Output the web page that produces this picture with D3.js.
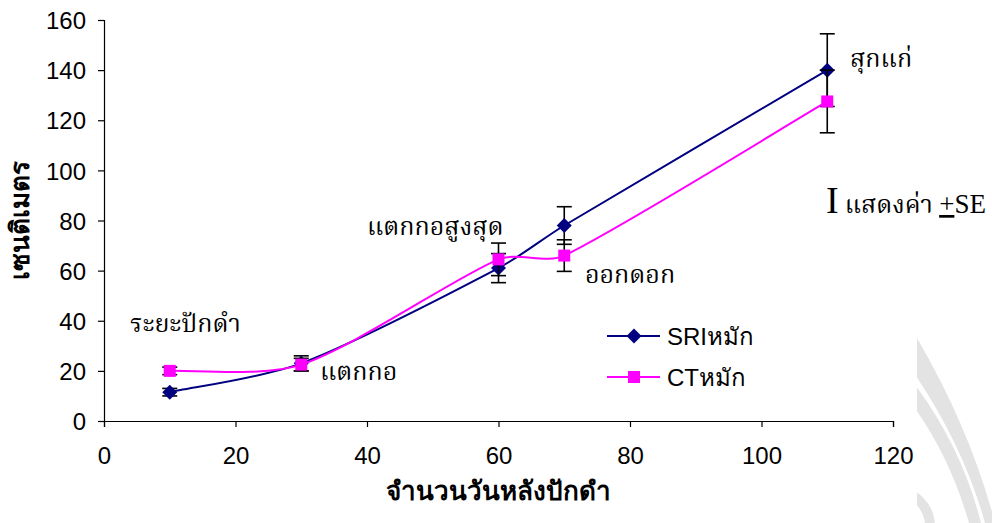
<!DOCTYPE html>
<html><head><meta charset="utf-8">
<script src="https://cdn.jsdelivr.net/npm/d3@7/dist/d3.min.js"></script>
<style>
body{margin:0;background:#fff;}
svg{display:block;}
.tick text{font-family:"Liberation Sans",Arial,sans-serif;font-size:24px;fill:#000;}
.ann{font-family:"Liberation Serif","Noto Serif Thai","Noto Sans Thai",serif;font-size:25px;fill:#000;}
</style></head>
<body>
<svg id="chart" width="992" height="523"></svg>
<script>
const days = [10, 30, 60, 70, 110];
const sriValues = [11.5, 23, 61, 78, 140];
const sriSE = [1.5, 3, 5.8, 7.5, 14.5];
const ctValues = [20, 22.5, 64.5, 66, 127.5];
const ctSE = [1.5, 2.5, 6.5, 6.3, 12.5];
const xTicks = [0, 20, 40, 60, 80, 100, 120];
const yTicks = [0, 20, 40, 60, 80, 100, 120, 140, 160];
const seriesNames = ["SRIหมัก", "CTหมัก"];
const stageLabels = ["ระยะปักดำ", "แตกกอ", "แตกกอสูงสุด", "ออกดอก", "สุกแก่"];
const xTitle = "จำนวนวันหลังปักดำ";
const yTitle = "เซนติเมตร";

const svg = d3.select("#chart");
const L = 104, R = 893, T = 20, B = 421;
const x = d3.scaleLinear().domain([0, 120]).range([L, R]);
const y = d3.scaleLinear().domain([0, 160]).range([B, T]);

// watermark (decorative, clipped at x >= 917)
svg.append("clipPath").attr("id", "wmclip").append("rect")
  .attr("x", 917).attr("y", 0).attr("width", 80).attr("height", 523);
const wm = svg.append("g").attr("fill", "#e3e3e3").attr("clip-path", "url(#wmclip)");
wm.append("path").attr("d", "M905,318 Q968,420 995,523 L985,523 Q962,440 905,360 Z");
wm.append("path").attr("d", "M905,372 Q960,440 981,523 L969,523 Q948,450 905,395 Z");
wm.append("path").attr("d", d3.arc().innerRadius(30).outerRadius(40).startAngle(0).endAngle(Math.PI)())
  .attr("transform", "translate(895,526)");

// axes
const yAxis = d3.axisLeft(y).tickValues(yTicks).tickSize(6).tickPadding(12);
const xAxis = d3.axisBottom(x).tickValues(xTicks).tickSize(6).tickPadding(20);
const gy = svg.append("g").attr("transform", `translate(${L},0)`).call(yAxis);
const gx = svg.append("g").attr("transform", `translate(0,${B})`).call(xAxis);
[gx, gy].forEach(g => { g.selectAll("path,line").attr("stroke", "#000").attr("stroke-width", 1.2); });
gy.selectAll(".tick text").attr("dy", "0.36em");

// Excel-like smoothed line: Bezier with (P[i+1]-P[i-1])/6 tangents, clamped to segment length
function smoothPath(pts) {
  const p = pts.map(d => [x(d[0]), y(d[1])]);
  const n = p.length, k = 0.3;
  const dist = (a, b) => Math.hypot(b[0] - a[0], b[1] - a[1]);
  const tan = i => {
    const a = p[Math.max(0, i - 1)], b = p[Math.min(n - 1, i + 1)];
    return [(b[0] - a[0]) / 6, (b[1] - a[1]) / 6];
  };
  const clamp = (t, maxLen) => {
    const len = Math.hypot(t[0], t[1]);
    return len > maxLen ? [t[0] * maxLen / len, t[1] * maxLen / len] : t;
  };
  const path = d3.path();
  path.moveTo(p[0][0], p[0][1]);
  for (let i = 0; i < n - 1; i++) {
    const d = dist(p[i], p[i + 1]);
    const t0 = clamp(tan(i), k * d), t1 = clamp(tan(i + 1), k * d);
    path.bezierCurveTo(p[i][0] + t0[0], p[i][1] + t0[1],
      p[i + 1][0] - t1[0], p[i + 1][1] - t1[1],
      p[i + 1][0], p[i + 1][1]);
  }
  return path.toString();
}
const diamond = "M0,-7.5L7.5,0L0,7.5L-7.5,0Z";
const square = "M-6,-6H6V6H-6Z";

function drawSeries(vals, se, color, shape) {
  const pts = days.map((d, i) => [d, vals[i]]);
  svg.append("path").attr("d", smoothPath(pts)).attr("fill", "none")
    .attr("stroke", color).attr("stroke-width", 2);
  const eb = svg.append("g").attr("stroke", "#000").attr("stroke-width", 1.6);
  days.forEach((d, i) => {
    const cx = x(d), y1 = y(vals[i] + se[i]), y2 = y(vals[i] - se[i]);
    eb.append("line").attr("x1", cx).attr("x2", cx).attr("y1", y1).attr("y2", y2);
    eb.append("line").attr("x1", cx - 7.5).attr("x2", cx + 7.5).attr("y1", y1).attr("y2", y1);
    eb.append("line").attr("x1", cx - 7.5).attr("x2", cx + 7.5).attr("y1", y2).attr("y2", y2);
  });
  svg.append("g").selectAll("path").data(pts).join("path")
    .attr("d", shape).attr("fill", color)
    .attr("transform", d => `translate(${x(d[0])},${y(d[1])})`);
}
drawSeries(sriValues, sriSE, "#000080", diamond);
drawSeries(ctValues, ctSE, "#ff00ff", square);

// legend
const leg = [{c: "#000080", s: diamond, yy: 336}, {c: "#ff00ff", s: square, yy: 377}];
leg.forEach((l, i) => {
  svg.append("line").attr("x1", 607).attr("x2", 660).attr("y1", l.yy).attr("y2", l.yy)
    .attr("stroke", l.c).attr("stroke-width", 2);
  svg.append("path").attr("d", l.s).attr("fill", l.c).attr("transform", `translate(634,${l.yy})`);
  svg.append("text").attr("x", 667).attr("y", l.yy + 9)
    .attr("font-family", "'Liberation Sans',Arial,sans-serif").attr("font-size", 24)
    .text(seriesNames[i]);
});

// stage annotations
const annPos = [[130, 332], [320, 380], [367, 235], [585, 283], [850, 67]];
stageLabels.forEach((t, i) => {
  svg.append("text").attr("class", "ann").attr("x", annPos[i][0]).attr("y", annPos[i][1]).text(t);
});

// SE note
const se = svg.append("text").attr("class", "ann").attr("x", 826).attr("y", 213);
se.append("tspan").attr("font-size", 38).text("I");
se.append("tspan").attr("dx", 6).attr("font-size", 25).text("แสดงค่า ");
se.append("tspan").attr("font-size", 27).attr("text-decoration", "underline").text("+");
se.append("tspan").attr("font-size", 27).text("SE");

// axis titles
svg.append("text").attr("x", 498).attr("y", 500).attr("text-anchor", "middle")
  .attr("font-family", "'Liberation Sans',Arial,sans-serif").attr("font-weight", "bold")
  .attr("font-size", 26).text(xTitle);
svg.append("text").attr("transform", "translate(29,220) rotate(-90)").attr("text-anchor", "middle")
  .attr("font-family", "'Liberation Sans',Arial,sans-serif").attr("font-weight", "bold")
  .attr("font-size", 26).text(yTitle);
</script>
</body></html>
